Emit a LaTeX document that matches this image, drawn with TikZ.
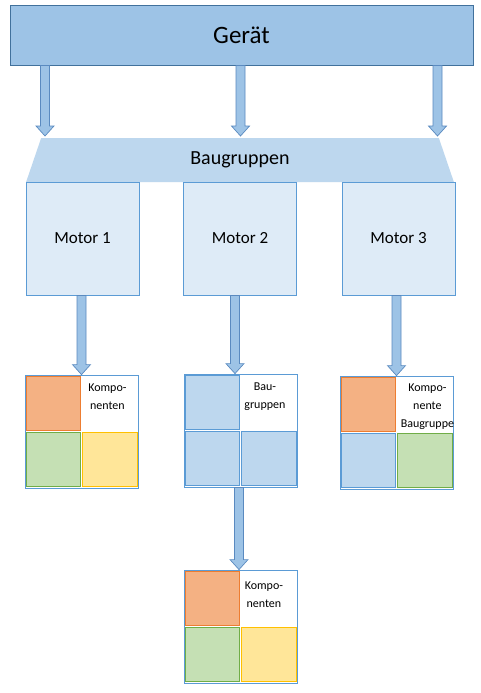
\documentclass[tikz,border=0pt]{standalone}
\usepackage{fontspec}
\setmainfont{Carlito}
\usepackage{xcolor}
\usepackage{tikz}
\usetikzlibrary{shapes.geometric,positioning,calc}
\definecolor{topfill}{HTML}{9DC3E6}
\definecolor{topline}{HTML}{41719C}
\definecolor{bgfill}{HTML}{BDD7EE}
\definecolor{motfill}{HTML}{DEEBF7}
\definecolor{boxline}{HTML}{5B9BD5}
\definecolor{arrowline}{HTML}{5A8AC0}
\definecolor{orfill}{HTML}{F4B183}
\definecolor{orline}{HTML}{ED7D31}
\definecolor{grfill}{HTML}{C5E0B4}
\definecolor{grline}{HTML}{70AD47}
\definecolor{yefill}{HTML}{FFE699}
\definecolor{yeline}{HTML}{FFC000}
\tikzset{box/.style={rectangle,draw=boxline,line width=0.8pt,minimum width=113pt,minimum height=113pt,inner sep=0pt},
  cell/.style={rectangle,draw,line width=0.8pt,minimum width=54pt,minimum height=54pt,inner sep=0pt,anchor=north west},
  ora/.style={cell,fill=orfill,draw=orline},
  gre/.style={cell,fill=grfill,draw=grline},
  yel/.style={cell,fill=yefill,draw=yeline},
  blu/.style={cell,fill=bgfill,draw=boxline},
  lbl/.style={align=center,font=\fontsize{12}{18}\selectfont},
  barrow/.style={draw=arrowline,fill=topfill,line width=0.7pt,
    to path={let \p1=(\tikztostart), \p2=(\tikztotarget) in
      (\x1-4.5pt,\y1) -- (\x1-4.5pt,\y2+10pt) -- (\x1-9pt,\y2+10pt) -- (\x1,\y2)
      -- (\x1+9pt,\y2+10pt) -- (\x1+4.5pt,\y2+10pt) -- (\x1+4.5pt,\y1) -- cycle}}}
\begin{document}
\begin{tikzpicture}[x=1pt,y=-1pt]
    \fill[white] (0,0) rectangle (481,693);
    \useasboundingbox (0,0) rectangle (481,693);

    \node[rectangle,draw=topline,fill=topfill,line width=0.9pt,minimum width=463pt,minimum height=60pt,font=\fontsize{25}{30}\selectfont] (g)at (241.5,35) {Gerät};
    \node[trapezium,trapezium angle=77,trapezium stretches=true,fill=bgfill,minimum width=428pt,minimum height=44pt,inner sep=0pt,font=\fontsize{20}{24}\selectfont] (bg)at (240,160) {Baugruppen};

    \node[box,fill=motfill,font=\fontsize{17}{20}\selectfont] (m1)at (82.5,238.5) {Motor 1};
    \node[box,fill=motfill,font=\fontsize{17}{20}\selectfont] (m2)at (240,238.5) {Motor 2};
    \node[box,fill=motfill,font=\fontsize{17}{20}\selectfont] (m3)at (398.5,238.5) {Motor 3};

    \node[box,fill=white] (k1)at (81.5,431.5) {};
    \node[box,fill=white] (k2)at (241,430.5) {};
    \node[box,fill=white] (k3)at (396.5,432.5) {};
    \node[box,fill=white] (k4)at (241,626.5) {};

    % Zellen
    \node[ora] (k1a)at ([shift={(1,1)}]k1.north west) {};
    \node[gre] (k1b)at ([shift={(1,57)}]k1.north west) {};
    \node[yel,minimum width=55pt] (k1c)at ([shift={(57,57)}]k1.north west) {};
    \node[lbl] (k1t)at ([shift={(-31,22)}]k1.north east) {Kompo-\\nenten};

    \node[blu] (k2a)at ([shift={(1,1)}]k2.north west) {};
    \node[blu] (k2b)at ([shift={(1,57)}]k2.north west) {};
    \node[blu,minimum width=55pt] (k2c)at ([shift={(57,57)}]k2.north west) {};
    \node[lbl] (k2t)at ([shift={(-33,23)}]k2.north east) {Bau-\\gruppen};

    \node[ora] (k3a)at ([shift={(1,1)}]k3.north west) {};
    \node[blu] (k3b)at ([shift={(1,57)}]k3.north west) {};
    \node[gre,minimum width=55pt] (k3c)at ([shift={(57,57)}]k3.north west) {};
    \node[lbl] (k3t)at ([shift={(-26,31)}]k3.north east) {Kompo-\\nente\\Baugruppe};

    \node[ora] (k4a)at ([shift={(1,1)}]k4.north west) {};
    \node[gre] (k4b)at ([shift={(1,57)}]k4.north west) {};
    \node[yel,minimum width=55pt] (k4c)at ([shift={(57,57)}]k4.north west) {};
    \node[lbl] (k4t)at ([shift={(-34,25)}]k4.north east) {Kompo-\\nenten};

    \coordinate (t1)at (45,136);
    \coordinate (t2)at (240.5,136);
    \coordinate (t3)at (437.5,136);

    \draw [barrow] (g.south -| t1) to (t1);
    \draw [barrow] (g.south -| t2) to (t2);
    \draw [barrow] (g.south -| t3) to (t3);
    \draw [barrow] (k1.north |- m1.south) to (k1.north);
    \draw [barrow] ([xshift=-5pt]m2.south) to ([xshift=-6pt]k2.north);
    \draw [barrow] (k3.north |- m3.south) to (k3.north);
    \draw [barrow] ([xshift=-2pt]k2.south) to ([xshift=-2pt]k4.north);
\end{tikzpicture}
\end{document}
